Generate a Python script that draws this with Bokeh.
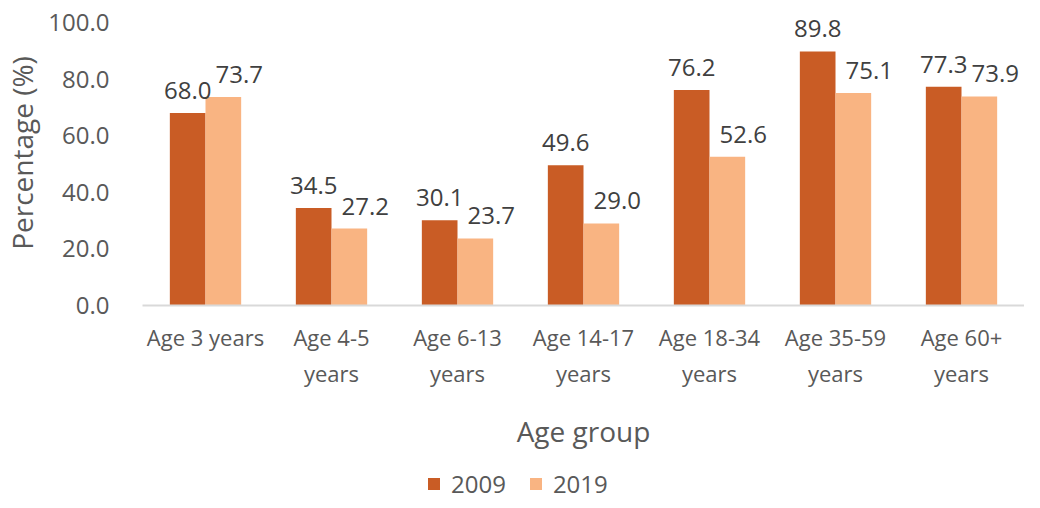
from bokeh.plotting import figure
from bokeh.layouts import column
from bokeh.models import ColumnDataSource, Range1d, FactorRange, Legend, LegendItem, FixedTicker, PrintfTickFormatter
from bokeh.transform import dodge
from bokeh.core.properties import value
from bokeh.embed import file_html
from bokeh.resources import INLINE

categories = ["Age 3 years", "Age 4-5\nyears", "Age 6-13\nyears", "Age 14-17\nyears",
              "Age 18-34\nyears", "Age 35-59\nyears", "Age 60+\nyears"]
values_2009 = [68.0, 34.5, 30.1, 49.6, 76.2, 89.8, 77.3]
values_2019 = [73.7, 27.2, 23.7, 29.0, 52.6, 75.1, 73.9]
series = ["2009", "2019"]
y_ticks = [0, 20, 40, 60, 80, 100]

colors = ["#C95C25", "#F9B482"]
FONT = "Open Sans"

src = ColumnDataSource(dict(
    cat=categories,
    v2009=values_2009,
    v2019=values_2019,
    l2009=[f"{v:.1f}" for v in values_2009],
    l2019=[f"{v:.1f}" for v in values_2019],
))

# frame starts at the canvas top so that the tallest data label is not clipped;
# the range end is chosen so that 100 sits 22px below the top
p = figure(width=1024, height=458, output_backend="svg", toolbar_location=None,
           x_range=FactorRange(factors=categories, range_padding=0),
           y_range=Range1d(0, 107.8),
           min_border_left=136, min_border_right=0, min_border_top=0, min_border_bottom=153)
p.outline_line_color = None
p.xgrid.grid_line_color = None
p.ygrid.grid_line_color = None

bw = 0.283
off = bw / 2
r1 = p.vbar(x=dodge("cat", -off, range=p.x_range), top="v2009", width=bw, source=src,
            fill_color=colors[0], line_color=None)
r2 = p.vbar(x=dodge("cat", off, range=p.x_range), top="v2019", width=bw, source=src,
            fill_color=colors[1], line_color=None)

for col, lab, o, xo in (("v2009", "l2009", -off, 0), ("v2019", "l2019", off, 16)):
    p.text(x=dodge("cat", o, range=p.x_range), y=col, text=lab, source=src,
           text_font=value(FONT), text_font_size="24px", text_color="#404040",
           text_align="center", text_baseline="bottom", y_offset=-14, x_offset=xo)

# y axis
ya = p.yaxis[0]
ya.ticker = FixedTicker(ticks=y_ticks)
ya.formatter = PrintfTickFormatter(format="%.1f")
ya.axis_line_color = None
ya.major_tick_line_color = None
ya.minor_tick_line_color = None
ya.major_label_text_font = FONT
ya.major_label_text_font_size = "24px"
ya.major_label_text_color = "#595959"
ya.major_label_standoff = 27
ya.axis_label = "Percentage (%)"
ya.axis_label_text_font = FONT
ya.axis_label_text_font_size = "28px"
ya.axis_label_text_font_style = "normal"
ya.axis_label_text_color = "#595959"
ya.axis_label_standoff = 4

# x axis
xa = p.xaxis[0]
xa.axis_line_color = "#D9D9D9"
xa.axis_line_width = 2
xa.major_tick_line_color = None
xa.minor_tick_line_color = None
xa.major_label_text_font = FONT
xa.major_label_text_font_size = "22px"
xa.major_label_text_color = "#595959"
xa.major_label_standoff = 10
xa.axis_label = "Age group"
xa.axis_label_text_font = FONT
xa.axis_label_text_font_size = "28px"
xa.axis_label_text_font_style = "normal"
xa.axis_label_text_color = "#595959"
xa.axis_label_standoff = 21

# legend strip below the chart
lg = figure(width=1024, height=42, output_backend="svg", toolbar_location=None,
            x_range=Range1d(0, 1), y_range=Range1d(0, 1),
            min_border_left=0, min_border_right=0, min_border_top=0, min_border_bottom=0)
lg.outline_line_color = None
lg.xaxis.visible = False
lg.yaxis.visible = False
lg.xgrid.visible = False
lg.ygrid.visible = False
key = ColumnDataSource(dict(x=[0.5], top=[0.0]))  # zero-height keys, only for the legend swatches
k1 = lg.vbar(x="x", top="top", width=0.01, source=key, fill_color=colors[0], line_color=None)
k2 = lg.vbar(x="x", top="top", width=0.01, source=key, fill_color=colors[1], line_color=None)

legend = Legend(items=[LegendItem(label=series[0], renderers=[k1]),
                       LegendItem(label=series[1], renderers=[k2])],
                orientation="horizontal", location=(284, 0),
                label_text_font=FONT, label_text_font_size="24px", label_text_color="#595959",
                glyph_width=15, glyph_height=15, spacing=22, label_standoff=10,
                border_line_color=None, background_fill_alpha=0, padding=0, margin=0)
lg.add_layout(legend, "center")

layout = column(p, lg, spacing=0)
open("out.html", "w").write(file_html(layout, INLINE))
